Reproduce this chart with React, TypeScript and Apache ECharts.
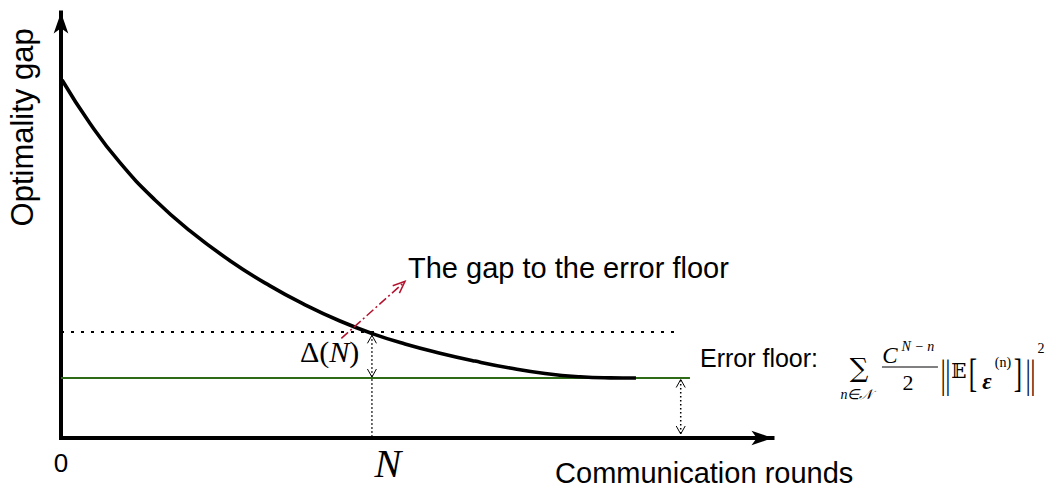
import React, { useEffect, useRef } from "react";
import * as echarts from "echarts";

// ---- data ----
const curveX = [0.15, 4.08, 8.29, 13.21, 18.13, 23.75, 29.38, 34.3, 39.21, 43.85, 48.35, 53.27, 58.19, 63.11, 68.03, 72.95, 77.16, 80.81];
const curveY = [84.14, 73.92, 64.7, 55.94, 48.68, 41.68, 35.74, 31.31, 27.5, 24.48, 22.1, 19.94, 18.07, 16.45, 15.17, 14.38, 14.13, 14.09];

const N_X = 43.7; // communication round N
const CURVE_AT_N = 24.6;
const THRESHOLD_Y = 24.9;
const THRESHOLD_END_X = 87.0;
const FLOOR_Y = 14.1;
const FLOOR_END_X = 88.4;
const RIGHT_ARROW_X = 87.1;
const GAP_ARROW_FROM = [39.4, 23.4];
const GAP_ARROW_TO = [48.35, 36.8];

const xTickValues = [0, N_X];
const xTickLabels = ["0", "N"];

const Y_TITLE = "Optimality gap";
const X_TITLE = "Communication rounds";
const GAP_TEXT = "The gap to the error floor";
const FLOOR_TEXT = "Error floor:";

const SANS = '"Liberation Sans", Arial, Helvetica, sans-serif';
const SERIF = '"Liberation Serif", "Times New Roman", serif';
const MATH = '"DejaVu Serif", "DejaVu Sans", serif';
const GREEN = "#2e6b16";
const RED = "#b3122e";

export default function App() {
  const ref = useRef<HTMLDivElement>(null);

  useEffect(() => {
    if (!ref.current) return;
    const chart = echarts.init(ref.current, undefined, { renderer: "svg" });

    const axisLine = {
      show: true,
      onZero: false,
      symbol: ["none", "arrow"],
      symbolSize: [11, 21],
      lineStyle: { color: "#000", width: 4, cap: "square" },
    };

    const renderItem = (_params: any, api: any) => {
      const c = (x: number, y: number) => api.coord([x, y]) as number[];
      const children: any[] = [];
      const seg = (a: number[], b: number[], style: any) =>
        children.push({ type: "line", shape: { x1: a[0], y1: a[1], x2: b[0], y2: b[1] }, style });
      const head = (tip: number[], from: number[], len: number, half: number, style: any) => {
        const dx = tip[0] - from[0];
        const dy = tip[1] - from[1];
        const d = Math.hypot(dx, dy) || 1;
        const ux = dx / d, uy = dy / d;
        const nx = -uy, ny = ux;
        children.push({
          type: "polyline",
          shape: {
            points: [
              [tip[0] - ux * len + nx * half, tip[1] - uy * len + ny * half],
              [tip[0], tip[1]],
              [tip[0] - ux * len - nx * half, tip[1] - uy * len - ny * half],
            ],
          },
          style: { ...style, fill: null },
        });
      };
      const txt = (x: number, y: number, text: string, s: any, extra: any = {}) =>
        children.push({ type: "text", x, y, ...extra, style: { text, x: 0, y: 0, fill: "#000", ...s } });

      // Delta(N) double arrow at N
      const nTop = c(N_X, CURVE_AT_N);
      const nFloor = c(N_X, FLOOR_Y);
      const nAxis = c(N_X, 0);
      const dotted = { stroke: "#000", lineWidth: 1.5, lineDash: [1.5, 2.5] };
      const thin = { stroke: "#000", lineWidth: 1 };
      seg([nTop[0], nTop[1] + 2], [nAxis[0], nAxis[1] - 2], dotted);
      head([nTop[0], nTop[1] + 2], [nTop[0], nTop[1] + 20], 8, 4.5, thin);
      head([nFloor[0], nFloor[1] - 1], [nFloor[0], nFloor[1] - 20], 8, 4.5, thin);

      // double arrow from floor to axis
      const rTop = c(RIGHT_ARROW_X, FLOOR_Y);
      const rAxis = c(RIGHT_ARROW_X, 0);
      seg([rTop[0], rTop[1] + 2], [rAxis[0], rAxis[1] - 3], dotted);
      head([rTop[0], rTop[1] + 1.5], [rTop[0], rTop[1] + 20], 8, 4.5, thin);
      head([rAxis[0], rAxis[1] - 4], [rAxis[0], rAxis[1] - 20], 8, 4.5, thin);

      // red dash-dot arrow
      const ga = c(GAP_ARROW_FROM[0], GAP_ARROW_FROM[1]);
      const gb = c(GAP_ARROW_TO[0], GAP_ARROW_TO[1]);
      seg(ga, gb, { stroke: RED, lineWidth: 1.5, lineDash: [9, 3, 2, 3] });
      head(gb, ga, 12, 5, { stroke: RED, lineWidth: 1.5 });

      // texts
      txt(gb[0] + 3, gb[1] - 13, GAP_TEXT, { fontFamily: SANS, fontSize: 29, align: "left", verticalAlign: "middle" });
      children.push({
        type: "text",
        x: nTop[0] - 72,
        y: nTop[1] + 18,
        style: {
          text: "{a|Δ(}{b|N}{a|)}",
          x: 0,
          y: 0,
          fill: "#000",
          align: "left",
          verticalAlign: "middle",
          rich: {
            a: { fontFamily: SERIF, fontSize: 30, fill: "#000" },
            b: { fontFamily: SERIF, fontSize: 30, fontStyle: "italic", fill: "#000" },
          },
        },
      });

      const yt = c(0, 73);
      txt(yt[0] - 38.5, yt[1], Y_TITLE, { fontFamily: SANS, fontSize: 31, align: "center", verticalAlign: "middle" }, { rotation: Math.PI / 2 });
      const xt = c(90.4, 0);
      txt(xt[0], xt[1] + 35, X_TITLE, { fontFamily: SANS, fontSize: 29, align: "center", verticalAlign: "middle" });

      // error floor formula
      const f = c(FLOOR_END_X, FLOOR_Y);
      const fx = f[0], fy = f[1];
      const mid = { align: "center", verticalAlign: "middle" };
      txt(fx + 10, fy - 20, FLOOR_TEXT, { fontFamily: SANS, fontSize: 25, align: "left", verticalAlign: "middle" });
      txt(fx + 169, fy - 10.5, "∑", { fontFamily: MATH, fontSize: 26, ...mid });
      txt(fx + 166.5, fy + 16, "n∈𝒩", { fontFamily: SERIF, fontSize: 14, fontStyle: "italic", ...mid });
      txt(fx + 200, fy - 23, "C", { fontFamily: SERIF, fontSize: 23, fontStyle: "italic", ...mid });
      txt(fx + 228, fy - 32, "N − n", { fontFamily: SERIF, fontSize: 14, fontStyle: "italic", ...mid });
      seg([fx + 192, fy - 11], [fx + 248, fy - 11], { stroke: "#000", lineWidth: 1 });
      txt(fx + 218, fy + 4.5, "2", { fontFamily: SERIF, fontSize: 22, ...mid });
      txt(fx + 255.5, fy - 5, "||", { fontFamily: SERIF, fontSize: 24, ...mid }, { scaleY: 1.7 });
      txt(fx + 269, fy - 7.5, "𝔼", { fontFamily: MATH, fontSize: 20, ...mid });
      txt(fx + 283, fy - 4.5, "[", { fontFamily: SERIF, fontSize: 25, ...mid }, { scaleY: 1.6 });
      txt(fx + 297, fy + 3, "ε", { fontFamily: SERIF, fontSize: 23, fontStyle: "italic", fontWeight: "bold", ...mid });
      txt(fx + 313, fy - 16, "(n)", { fontFamily: SERIF, fontSize: 14, ...mid });
      txt(fx + 328, fy - 4.5, "]", { fontFamily: SERIF, fontSize: 25, ...mid }, { scaleY: 1.6 });
      txt(fx + 340.5, fy - 5, "||", { fontFamily: SERIF, fontSize: 24, ...mid }, { scaleY: 1.7 });
      txt(fx + 351, fy - 30, "2", { fontFamily: SERIF, fontSize: 14, ...mid });

      return { type: "group", children };
    };

    const option: any = {
      animation: false,
      grid: { left: 61, right: 284.5, top: 12.5, bottom: 54, containLabel: false },
      xAxis: {
        type: "value",
        min: 0,
        max: 100,
        splitLine: { show: false },
        axisTick: { show: false },
        axisLine,
        axisLabel: {
          customValues: xTickValues,
          margin: 12,
          color: "#000",
          fontFamily: SANS,
          fontSize: 26,
          formatter: (v: number) => {
            const i = xTickValues.indexOf(v);
            const s = i >= 0 ? xTickLabels[i] : "";
            return s === "N" ? "{n|N}" : s;
          },
          rich: {
            n: { fontFamily: SERIF, fontStyle: "italic", fontSize: 40, lineHeight: 26, padding: [0, 0, 0, 32], color: "#000" },
          },
        },
      },
      yAxis: {
        type: "value",
        min: 0,
        max: 100,
        splitLine: { show: false },
        axisTick: { show: false },
        axisLabel: { show: false },
        axisLine,
      },
      series: [
        {
          type: "line",
          data: [[0, FLOOR_Y], [FLOOR_END_X, FLOOR_Y]],
          showSymbol: false,
          silent: true,
          lineStyle: { color: GREEN, width: 2 },
          z: 2,
        },
        {
          type: "line",
          data: [[0, THRESHOLD_Y], [THRESHOLD_END_X, THRESHOLD_Y]],
          showSymbol: false,
          silent: true,
          lineStyle: { color: "#000", width: 2, type: [3, 7] },
          z: 2,
        },
        {
          type: "line",
          data: curveX.map((x, i) => [x, curveY[i]]),
          smooth: 0.5,
          showSymbol: false,
          silent: true,
          lineStyle: { color: "#000", width: 3.6 },
          z: 4,
        },
        {
          type: "custom",
          coordinateSystem: "cartesian2d",
          data: [[0, 0]],
          silent: true,
          clip: false,
          renderItem,
          z: 5,
        },
      ],
    };

    chart.setOption(option);
    return () => chart.dispose();
  }, []);

  return (
    <div
      ref={ref}
      style={{ position: "fixed", left: 0, top: 0, width: 1057, height: 492, background: "#fff" }}
    />
  );
}
